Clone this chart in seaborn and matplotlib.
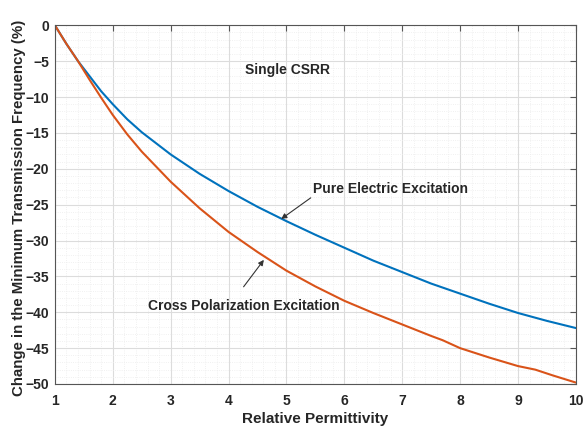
import matplotlib
matplotlib.use("Agg")
import matplotlib.pyplot as plt
import seaborn as sns
import pandas as pd
from matplotlib.ticker import MultipleLocator

# Data
x_blue = [1, 1.2, 1.4, 1.6, 1.8, 2, 2.25, 2.5, 3, 3.5, 4, 4.5, 5, 5.5, 6, 6.5, 7, 7.5, 8, 8.5, 9, 9.5, 10]
y_blue = [0, -2.6, -5.0, -7.1, -9.2, -11.0, -13.1, -14.9, -18.0, -20.7, -23.1, -25.3, -27.3, -29.2, -31.0, -32.8, -34.4, -36.0, -37.4, -38.8, -40.1, -41.2, -42.2]

x_orange = [1, 1.2, 1.4, 1.6, 1.8, 2, 2.25, 2.5, 3, 3.5, 4, 4.5, 5, 5.5, 6, 6.5, 7, 7.5, 7.7, 8, 8.5, 9, 9.3, 9.6, 10]
y_orange = [0, -2.6, -5.0, -7.6, -10.1, -12.5, -15.2, -17.6, -21.8, -25.5, -28.8, -31.6, -34.2, -36.4, -38.4, -40.1, -41.7, -43.3, -43.9, -45.0, -46.3, -47.5, -48.0, -48.8, -49.8]

series_names = ["Pure Electric Excitation", "Cross Polarization Excitation"]
colors = ["#0072BD", "#D95319"]

df = pd.concat([
    pd.DataFrame({"x": x_blue, "y": y_blue, "s": series_names[0]}),
    pd.DataFrame({"x": x_orange, "y": y_orange, "s": series_names[1]}),
])

sns.set_style("white")
plt.rcParams['font.family'] = ['Liberation Sans', 'DejaVu Sans']

fig = plt.figure(figsize=(5.84, 4.26), dpi=100)
ax = fig.add_axes([0.094, 0.0986, 0.892, 0.842])

sns.lineplot(data=df, x="x", y="y", hue="s", palette=colors, linewidth=1.5,
             legend=False, ax=ax, sort=True, estimator=None)

ax.set_xlim(1, 10)
ax.set_ylim(-50, 0)
ax.xaxis.set_major_locator(MultipleLocator(1))
ax.yaxis.set_major_locator(MultipleLocator(5))
ax.xaxis.set_minor_locator(MultipleLocator(0.2))
ax.yaxis.set_minor_locator(MultipleLocator(1))
ax.grid(which="major", color="#dcdcdc", linewidth=0.8)
ax.grid(which="minor", color="#ececec", linewidth=0.6, linestyle=":")
ax.set_axisbelow(True)
ax.tick_params(which="both", direction="in", top=True, right=True)
ax.tick_params(which="major", length=4, color="#555555", labelsize=10)
ax.tick_params(axis="x", which="major", pad=7)
ax.tick_params(axis="y", which="major", pad=4)
ax.tick_params(which="minor", length=0)
for lab in ax.get_xticklabels() + ax.get_yticklabels():
    lab.set_fontweight("bold")
    lab.set_color("#262626")
for sp in ax.spines.values():
    sp.set_color("#555555")
    sp.set_linewidth(0.8)

ax.set_xlabel("Relative Permittivity", fontsize=11, fontweight="bold", color="#262626", labelpad=3)
ax.set_ylabel("Change in the Minimum Transmission Frequency (%)", fontsize=10.8,
              fontweight="bold", color="#262626")
ax.yaxis.set_label_coords(-0.056, 0.49)

ax.text(5.02, -6.3, "Single CSRR", fontsize=10, fontweight="bold", ha="center", va="center")
ax.text(5.46, -22.8, "Pure Electric Excitation", fontsize=10, fontweight="bold",
        ha="left", va="center")
ax.text(2.6, -39.1, "Cross Polarization Excitation", fontsize=10, fontweight="bold",
        ha="left", va="center")
arrow_kw = dict(arrowstyle="-|>", color="#333333", lw=0.8, mutation_scale=8,
                shrinkA=0, shrinkB=0)
ax.annotate("", xy=(4.91, -27.0), xytext=(5.42, -24.05), arrowprops=arrow_kw)
ax.annotate("", xy=(4.61, -32.7), xytext=(4.26, -36.45), arrowprops=arrow_kw)

fig.savefig("out.png", dpi=100)
